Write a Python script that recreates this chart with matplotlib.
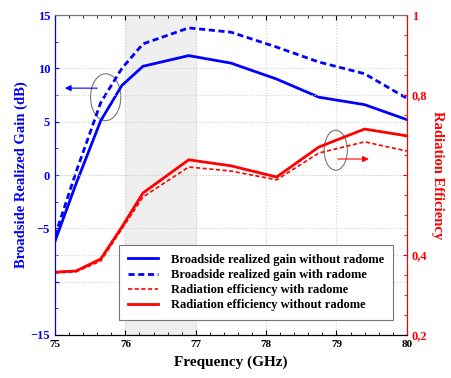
import matplotlib
matplotlib.use("Agg")
import matplotlib.pyplot as plt
from matplotlib.patches import Ellipse
from matplotlib.ticker import MultipleLocator

plt.rcParams['font.family'] = 'Liberation Serif'
plt.rcParams['font.weight'] = 'bold'

# frequency points (GHz)
freq = [75, 75.3, 75.65, 75.95, 76.25, 76.9, 77.5, 78.15, 78.75, 79.4, 80]

# broadside realized gain (dB)
gain_no_radome = [-6.2, -0.8, 5.1, 8.4, 10.2, 11.2, 10.5, 9.0, 7.3, 6.6, 5.2]
gain_radome = [-5.7, 0.3, 6.8, 10.0, 12.3, 13.8, 13.4, 12.0, 10.6, 9.5, 7.2]

# radiation efficiency
eff_radome = [0.355, 0.358, 0.385, 0.465, 0.545, 0.62, 0.61, 0.588, 0.655, 0.683, 0.66]
eff_no_radome = [0.357, 0.36, 0.39, 0.47, 0.555, 0.638, 0.623, 0.595, 0.67, 0.715, 0.698]

left_ticks = [-15, -10, -5, 0, 5, 10, 15]
left_labels = ['\u221215', '', '\u22125', '0', '5', '10', '15']
right_ticks = [0.2, 0.4, 0.6, 0.8, 1.0]
right_labels = ['0,2', '0,4', '', '0,8', '1']

blue = '#0000ff'
red = '#ff0000'

fig = plt.figure(figsize=(4.51, 3.78), dpi=100)
ax = fig.add_axes([0.122, 0.114, 0.780, 0.846])
ax2 = ax.twinx()

ax.axvspan(76, 77, color='#efefef', zorder=0)

l1, = ax.plot(freq, gain_no_radome, color=blue, lw=2.0, label='Broadside realized gain without radome')
l2, = ax.plot(freq, gain_radome, color=blue, lw=2.0, ls=(0, (2.2, 1.3)), label='Broadside realized gain with radome')
l3, = ax2.plot(freq, eff_radome, color=red, lw=1.2, ls=(0, (2.5, 1.5)), label='Radiation efficiency with radome')
l4, = ax2.plot(freq, eff_no_radome, color=red, lw=2.0, label='Radiation efficiency without radome')

ax.set_xlim(75, 80)
ax.set_ylim(-15, 15)
ax2.set_ylim(0.2, 1.0)

ax.set_xticks([75, 76, 77, 78, 79, 80])
ax.xaxis.set_minor_locator(MultipleLocator(0.2))
ax.set_yticks(left_ticks)
ax.set_yticklabels(left_labels)
ax.yaxis.set_minor_locator(MultipleLocator(2.5))
ax2.set_yticks(right_ticks)
ax2.set_yticklabels(right_labels)
ax2.yaxis.set_minor_locator(MultipleLocator(0.05))

ax.tick_params(axis='x', which='both', direction='in', top=True, labelsize=8, colors='black', pad=4)
ax.tick_params(axis='y', which='both', direction='in', labelsize=9, colors=blue, length=3)
ax.tick_params(axis='y', which='minor', length=2)
ax.tick_params(axis='x', which='minor', length=2)
ax2.tick_params(axis='y', which='both', direction='in', labelsize=9, colors=red, length=3)
ax2.tick_params(axis='y', which='minor', length=2)
for lab in ax.get_xticklabels() + ax.get_yticklabels() + ax2.get_yticklabels():
    lab.set_fontweight('bold')

ax.grid(True, which='major', color='#d0d0d0', ls=':', lw=0.8)
ax2.grid(True, which='major', axis='y', color='#d0d0d0', ls=':', lw=0.8)

ax.spines['left'].set_color(blue)
ax2.spines['left'].set_color(blue)
ax2.spines['right'].set_color(red)
ax.spines['right'].set_color(red)
ax.spines['top'].set_color('#777777')
ax2.spines['top'].set_color('#777777')

ax.set_xlabel('Frequency (GHz)', fontsize=11, fontweight='bold', labelpad=4)
ax.set_ylabel('Broadside Realized Gain (dB)', fontsize=10.5, fontweight='bold', color=blue, labelpad=2)
ax2.set_ylabel('Radiation Efficiency', fontsize=10.5, fontweight='bold', color=red, rotation=270, labelpad=12)

# annotations
ax.add_patch(Ellipse((75.72, 7.3), 0.43, 4.4, fill=False, ec='#777777', lw=0.8))
ax.annotate('', xy=(75.1, 8.15), xytext=(75.64, 8.15),
            arrowprops=dict(arrowstyle='-|>', color=blue, lw=0.8, mutation_scale=9))
ax2.add_patch(Ellipse((78.99, 0.662), 0.33, 0.1, fill=False, ec='#777777', lw=0.8))
ax2.annotate('', xy=(79.5, 0.64), xytext=(78.98, 0.64),
             arrowprops=dict(arrowstyle='-|>', color=red, lw=0.8, mutation_scale=9))

leg = ax2.legend(handles=[l1, l2, l3, l4], loc='lower right', bbox_to_anchor=(0.96, 0.047),
                 borderaxespad=0, fancybox=False, edgecolor='#777777', framealpha=1,
                 prop={'family': 'Liberation Serif', 'weight': 'bold', 'size': 9},
                 labelspacing=0.25, handlelength=2.4, handletextpad=1.0, borderpad=0.7)
leg.get_frame().set_linewidth(0.8)

fig.savefig('out.png', dpi=100)
